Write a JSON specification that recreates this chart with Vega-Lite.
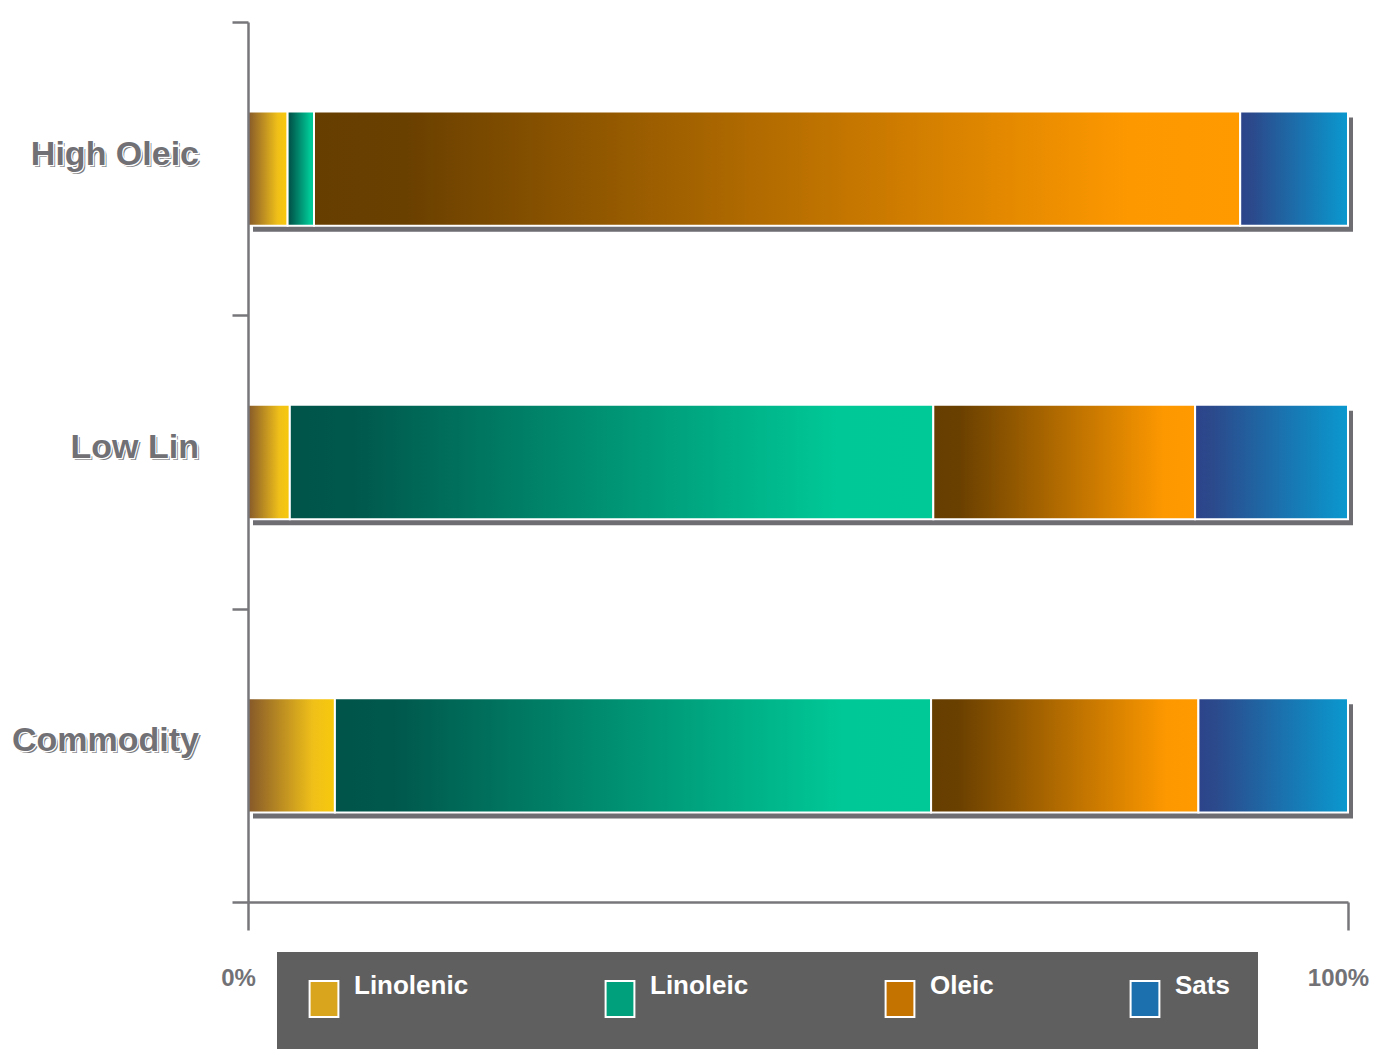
{
  "$schema": "https://vega.github.io/schema/vega-lite/v6.json",
  "width": 1100,
  "height": 880,
  "autosize": {"type": "none"},
  "padding": {"left": 248, "top": 22, "right": 28, "bottom": 151},
  "background": "white",
  "config": {
    "view": {"stroke": null},
    "font": "Liberation Sans, Arial, sans-serif",
    "numberFormat": ".0%",
    "axisX": {
      "tickCount": 1,
      "grid": false,
      "labelFlush": false,
      "labelOffset": -10,
      "domainColor": "#77777b",
      "domainWidth": 2.5,
      "tickColor": "#77777b",
      "tickWidth": 2.5,
      "tickSize": 28,
      "labelFontSize": 24,
      "labelFontWeight": "bold",
      "labelColor": "#727276",
      "labelPadding": 36
    }
  },
  "data": {
    "values": [
      {"category": "High Oleic", "type": "Linolenic", "k": 1, "value": 3.6},
      {"category": "High Oleic", "type": "Linoleic", "k": 2, "value": 2.4},
      {"category": "High Oleic", "type": "Oleic", "k": 3, "value": 84.2},
      {"category": "High Oleic", "type": "Sats", "k": 4, "value": 9.8},
      {"category": "Low Lin", "type": "Linolenic", "k": 1, "value": 3.8},
      {"category": "Low Lin", "type": "Linoleic", "k": 2, "value": 58.5},
      {"category": "Low Lin", "type": "Oleic", "k": 3, "value": 23.8},
      {"category": "Low Lin", "type": "Sats", "k": 4, "value": 13.9},
      {"category": "Commodity", "type": "Linolenic", "k": 1, "value": 7.9},
      {"category": "Commodity", "type": "Linoleic", "k": 2, "value": 54.2},
      {"category": "Commodity", "type": "Oleic", "k": 3, "value": 24.3},
      {"category": "Commodity", "type": "Sats", "k": 4, "value": 13.6}
    ]
  },
  "encoding": {
    "y": {
      "field": "category",
      "type": "nominal",
      "sort": ["High Oleic", "Low Lin", "Commodity"],
      "scale": {"paddingInner": 0, "paddingOuter": 0},
      "axis": {
        "title": null,
        "labels": false,
        "grid": false,
        "tickBand": "extent",
        "zindex": 1,
        "domainColor": "#77777b",
        "domainWidth": 2.5,
        "tickColor": "#77777b",
        "tickWidth": 2.5,
        "tickSize": 16
      }
    }
  },
  "layer": [
    {
      "mark": {"type": "bar", "opacity": 0, "height": {"band": 0.39}},
      "encoding": {
        "x": {"field": "value", "type": "quantitative", "stack": "normalize", "scale": {"domain": [0, 1]}, "axis": {"title": null}},
        "order": {"field": "k"},
        "color": {
          "field": "type",
          "type": "nominal",
          "scale": {
            "domain": ["Linolenic", "Linoleic", "Oleic", "Sats"],
            "range": ["#d9a51c", "#00a07c", "#c47200", "#1c70ae"]
          },
          "legend": {
            "title": null,
            "orient": "none",
            "legendX": 29,
            "legendY": 930,
            "direction": "horizontal",
            "columns": 4,
            "fillColor": "#5f5f5f",
            "padding": 28,
            "columnPadding": 132,
            "labelFontSize": 26,
            "labelFontWeight": "bold",
            "labelColor": "white",
            "labelOffset": 11,
            "labelBaseline": "bottom",
            "labelLimit": 300,
            "symbolType": "M-0.8,-1H0.8V1H-0.8Z",
            "symbolSize": 1296,
            "symbolStrokeColor": "white",
            "symbolStrokeWidth": 2,
            "symbolOpacity": 1
          }
        }
      }
    },
    {
      "transform": [{"filter": "datum.k == 1"}],
      "mark": {"type": "bar", "xOffset": 5, "x2Offset": 5, "yOffset": 6, "color": "#6d6d72", "height": {"band": 0.39}},
      "encoding": {
        "x": {"datum": 0, "axis": {"title": null}},
        "x2": {"datum": 1}
      }
    },
    {
      "mark": {"type": "bar", "stroke": "white", "strokeWidth": 2, "height": {"band": 0.39}},
      "encoding": {
        "x": {"field": "value", "type": "quantitative", "stack": "normalize", "axis": {"title": null}},
        "order": {"field": "k"},
        "color": {
          "condition": [
            {"test": "datum.type === 'Linolenic'", "value": {"gradient": "linear", "x1": 0, "y1": 0, "x2": 1, "y2": 0, "stops": [{"offset": 0, "color": "#85582a"}, {"offset": 0.75, "color": "#f0c019"}, {"offset": 1, "color": "#f8c90c"}]}},
            {"test": "datum.type === 'Linoleic'", "value": {"gradient": "linear", "x1": 0, "y1": 0, "x2": 1, "y2": 0, "stops": [{"offset": 0, "color": "#00544a"}, {"offset": 0.1, "color": "#00584c"}, {"offset": 0.85, "color": "#00c897"}, {"offset": 1, "color": "#00c998"}]}},
            {"test": "datum.type === 'Oleic'", "value": {"gradient": "linear", "x1": 0, "y1": 0, "x2": 1, "y2": 0, "stops": [{"offset": 0, "color": "#663e00"}, {"offset": 0.1, "color": "#6a4000"}, {"offset": 0.88, "color": "#fd9800"}, {"offset": 1, "color": "#ff9a00"}]}}
          ],
          "value": {"gradient": "linear", "x1": 0, "y1": 0, "x2": 1, "y2": 0, "stops": [{"offset": 0, "color": "#2d448a"}, {"offset": 0.12, "color": "#2b4a8c"}, {"offset": 1, "color": "#0a99cf"}]}
        }
      }
    },
    {
      "transform": [{"filter": "datum.k == 1"}],
      "mark": {"type": "text", "align": "right", "baseline": "alphabetic", "dx": -47, "dy": -2, "fontSize": 34, "fontWeight": "bold", "fill": "#7c7c80"},
      "encoding": {"x": {"datum": 0, "axis": {"title": null}}, "text": {"field": "category"}}
    },
    {
      "transform": [{"filter": "datum.k == 1"}],
      "mark": {"type": "text", "align": "right", "baseline": "alphabetic", "dx": -49, "dy": -4, "fontSize": 34, "fontWeight": "bold", "fill": "white", "stroke": "white", "strokeWidth": 2.5},
      "encoding": {"x": {"datum": 0, "axis": {"title": null}}, "text": {"field": "category"}}
    },
    {
      "transform": [{"filter": "datum.k == 1"}],
      "mark": {"type": "text", "align": "right", "baseline": "alphabetic", "dx": -49, "dy": -4, "fontSize": 34, "fontWeight": "bold", "fill": "#707075"},
      "encoding": {"x": {"datum": 0, "axis": {"title": null}}, "text": {"field": "category"}}
    }
  ]
}
